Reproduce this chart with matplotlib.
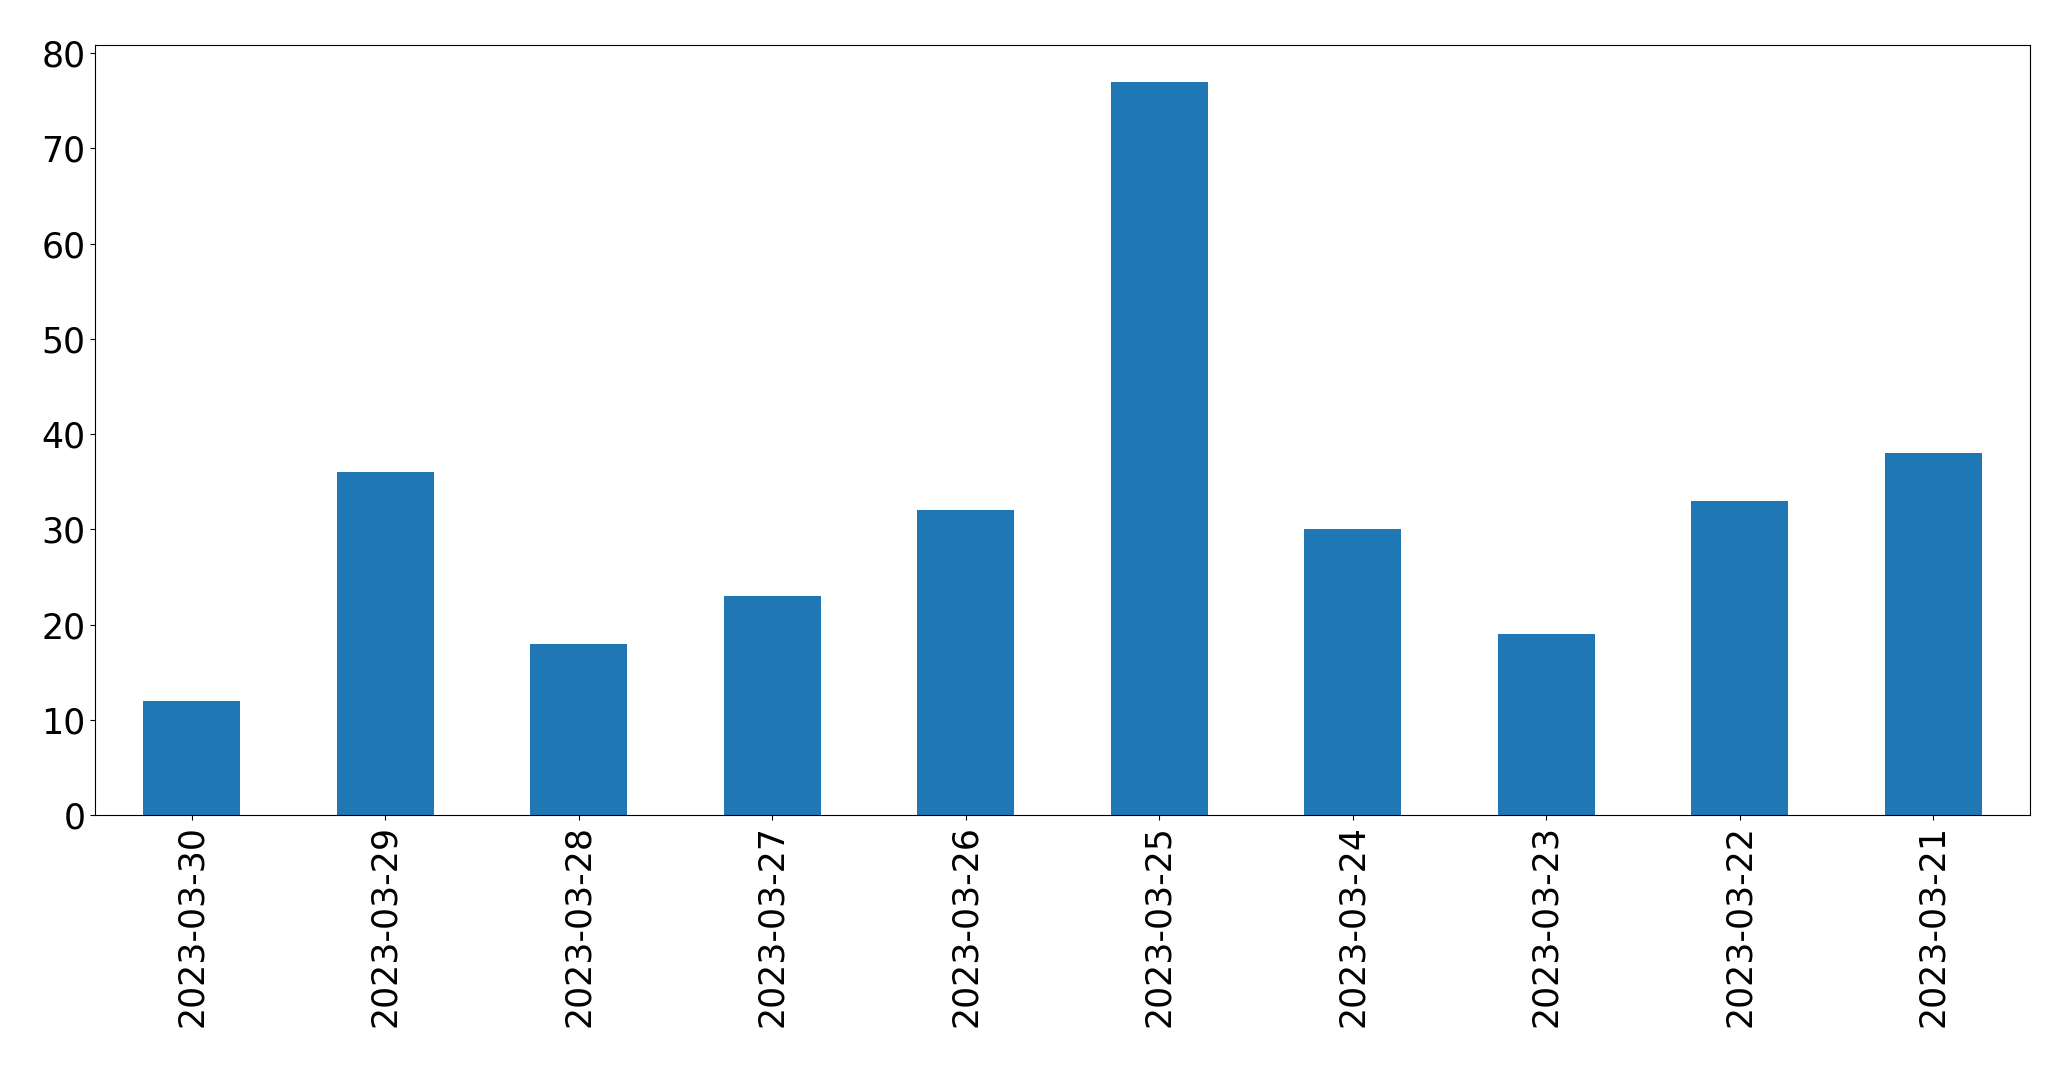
import matplotlib
matplotlib.use("Agg")
import matplotlib.pyplot as plt

dates = ["2023-03-30", "2023-03-29", "2023-03-28", "2023-03-27", "2023-03-26",
         "2023-03-25", "2023-03-24", "2023-03-23", "2023-03-22", "2023-03-21"]
counts = [12, 36, 18, 23, 32, 77, 30, 19, 33, 38]

fig = plt.figure(figsize=(20.71, 10.67), dpi=100)
ax = fig.add_axes([95/2071, 1 - 815/1067, (2030 - 95)/2071, (815 - 45)/1067])
x = list(range(len(dates)))
ax.bar(x, counts, width=0.5, color="#1f77b4")
ax.set_xlim(-0.5, len(dates) - 0.5)
ax.set_xticks(x)
ax.set_xticklabels(dates, rotation=90)
ax.tick_params(axis="both", labelsize=25)
fig.savefig("out.png", dpi=100)
